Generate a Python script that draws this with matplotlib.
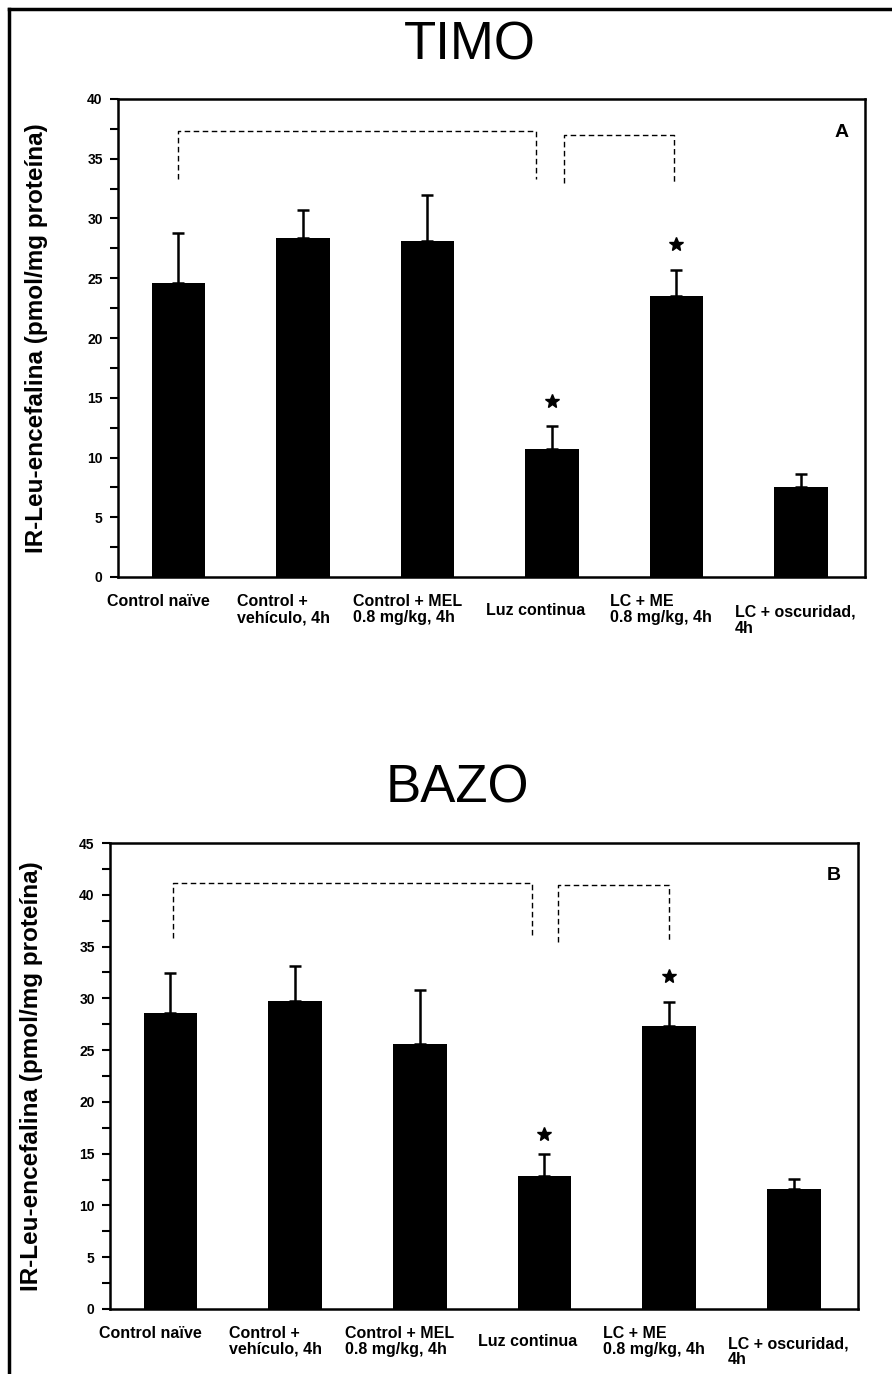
import numpy as np
import matplotlib
matplotlib.use("Agg")
import matplotlib.pyplot as plt
from matplotlib.lines import Line2D
from matplotlib.ticker import MultipleLocator
import matplotlib.transforms as mtransforms

plt.rcParams['font.family'] = ['Liberation Sans', 'DejaVu Sans']

groups = ["Control naïve", "Control +\nvehículo, 4h", "Control + MEL\n0.8 mg/kg, 4h",
          "Luz continua", "LC + ME\n0.8 mg/kg, 4h", "LC + oscuridad,\n4h"]

# TIMO (panel A)
timo_mean = [24.6, 28.4, 28.1, 10.7, 23.5, 7.5]
timo_err = [4.2, 2.3, 3.9, 1.9, 2.2, 1.1]
timo_star_idx = [3, 4]
timo_star_y = [14.7, 27.9]
timo_br1 = [0.0, 2.87, 37.3, 33.3]   # x0, x1, top, leg end
timo_br2 = [3.10, 3.98, 37.0, 33.0]

# BAZO (panel B)
bazo_mean = [28.6, 29.7, 25.6, 12.8, 27.3, 11.6]
bazo_err = [3.8, 3.4, 5.2, 2.2, 2.3, 1.0]
bazo_star_idx = [3, 4]
bazo_star_y = [16.9, 32.2]
bazo_br1 = [0.02, 2.90, 41.1, 35.8]
bazo_br2 = [3.11, 4.0, 40.9, 35.4]

ylabel = "IR-Leu-encefalina (pmol/mg proteína)"

W, H = 892, 1374
fig = plt.figure(figsize=(W / 100, H / 100), dpi=100)

# labels that sit a little lower in the scan
label_drop = {3: 0.018, 5: 0.022}
label_shift = {0: -0.04, 2: -0.07}


def panel(rect, mean, err, star_idx, star_y, br1, br2, ymax, letter, title, title_x, title_y, ylab_x):
    ax = fig.add_axes(rect)
    x = np.arange(len(mean))
    ax.bar(x, mean, width=0.43, color='black', zorder=2)
    ax.errorbar(x, mean, yerr=[np.zeros(len(err)), err], fmt='none', ecolor='black',
                elinewidth=1.8, capsize=4.5, capthick=1.8, zorder=1)
    ax.plot([x[i] for i in star_idx], star_y, linestyle='none', marker='*',
            color='black', markersize=10)
    for b in (br1, br2):
        ax.plot([b[0], b[0], b[1], b[1]], [b[3], b[2], b[2], b[3]], color='black',
                linestyle=(0, (4, 2.5)), linewidth=1.0)
    ax.set_xlim(-0.485, 5.515)
    ax.set_ylim(0, ymax)
    ax.yaxis.set_major_locator(MultipleLocator(5))
    ax.yaxis.set_minor_locator(MultipleLocator(2.5))
    ax.tick_params(axis='y', which='both', direction='out', length=6, width=1.5, pad=5,
                   labelsize=10)
    for t in ax.get_yticklabels():
        t.set_fontweight('bold')
    ax.set_xticks([])
    for s in ax.spines.values():
        s.set_linewidth(1.8)
    ax.set_ylabel(ylabel, fontsize=17.5, fontweight='bold')
    ax.yaxis.set_label_coords(ylab_x, 0.5)
    trans = mtransforms.blended_transform_factory(ax.transData, ax.transAxes)
    for i, g in enumerate(groups):
        ax.text(i - 0.53 + label_shift.get(i, 0), -0.036 - label_drop.get(i, 0), g,
                transform=trans, ha='left', va='top',
                fontsize=11.5, fontweight='bold', linespacing=1.1)
    ax.text(0.968, 0.93, letter, transform=ax.transAxes, ha='center', va='center',
            fontsize=14, fontweight='bold')
    fig.text(title_x, title_y, title, ha='center', va='center', fontsize=38)
    return ax


panel([118 / W, 1 - 577 / H, (865 - 118) / W, (577 - 99) / H],
      timo_mean, timo_err, timo_star_idx, timo_star_y, timo_br1, timo_br2,
      40, "A", "TIMO", 470 / W, 1 - 46 / H, -0.094)
panel([110 / W, 1 - 1309 / H, (858 - 110) / W, (1309 - 843) / H],
      bazo_mean, bazo_err, bazo_star_idx, bazo_star_y, bazo_br1, bazo_br2,
      45, "B", "BAZO", 457 / W, 1 - 789 / H, -0.09)

# outer frame (left and top edges of the scanned page)
fig.add_artist(Line2D([9 / W, 9 / W], [0, 1 - 9 / H], color='black', linewidth=2.5))
fig.add_artist(Line2D([9 / W, 1], [1 - 9 / H, 1 - 9 / H], color='black', linewidth=2.5))

fig.savefig("out.png", dpi=100)
